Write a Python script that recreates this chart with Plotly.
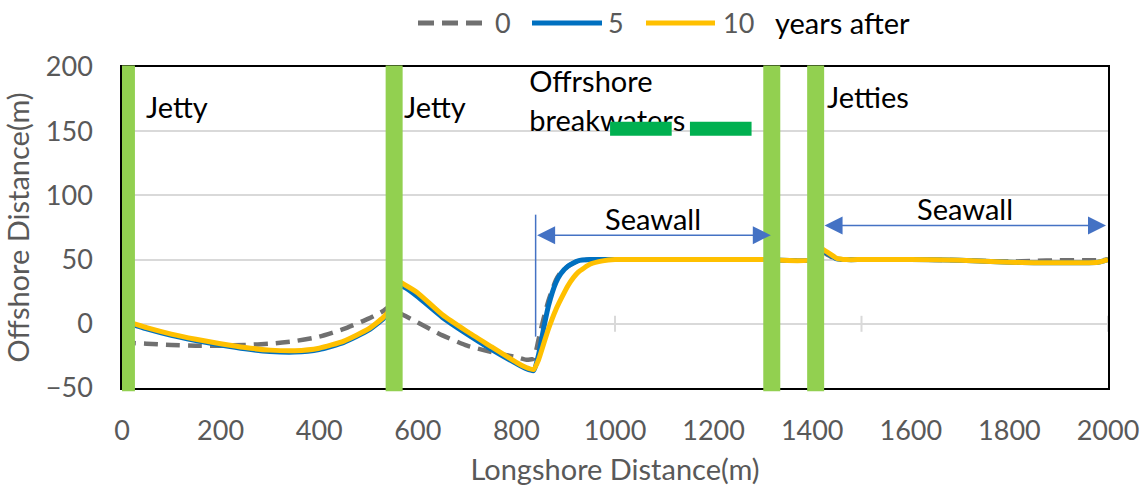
import plotly.graph_objects as go

# Shoreline position (offshore distance, m) along the coast (longshore distance, m)
longshore_m = [0, 25, 50, 100, 150, 200, 250, 300, 350, 400, 450, 500, 530, 545, 560, 575,
               600, 650, 700, 750, 800, 820, 835, 845, 855, 865, 880, 890, 905, 925, 950, 975,
               1000, 1100, 1200, 1300, 1400, 1410, 1430, 1450, 1470, 1500, 1600, 1700, 1800,
               1850, 1900, 1950, 1980, 2000]

year0 = [-14.5, -15, -15.5, -16.5, -17, -17, -16.5, -15.5, -13.5, -10, -4, 4, 10, 14, 9, 6,
         1, -9, -17, -22, -26, -28, -27, -12, 4, 18, 34, 40, 45, 49, 50, 50,
         50, 50, 50, 50, 50, 58, 54, 50, 50, 50, 50, 49.5, 48.5,
         49, 49.5, 49.5, 49.5, 50]

year5 = [1, -1, -4, -9, -13, -16.5, -19.5, -21.5, -22, -20, -14.5, -5, 4, 11, 30, 28,
         21, 5, -8, -20, -31, -35, -36.5, -24, -4, 14, 32, 39, 45, 49, 50, 50,
         50, 50, 50, 50, 50, 59, 55, 50.5, 50, 50, 50, 49.5, 48,
         47.5, 47.5, 47.5, 48, 50]

year10 = [3, 0, -3, -8, -12, -15.5, -18.5, -20.5, -21, -19, -13.5, -4, 5, 12, 33, 30,
          24, 7, -6, -18, -30, -34, -35.5, -28, -16, -4, 11, 19, 30, 40, 46.5, 49,
          50, 50, 50, 50, 50, 60, 56, 51, 50, 50, 50, 49.5, 48,
          47.5, 47.5, 47.5, 48, 50]

series_names = ["0", "5", "10"]
series_colors = ["#707070", "#0070C0", "#FFC000"]

# Coastal structures
jetty_x = [9, 552, 1318, 1407]
breakwater_spans = [(990, 1115), (1152, 1277)]
breakwater_y = 152
seawall_spans = [(839, 1316, 69), (1422, 1996, 76.5)]
seawall_start_marker = (839, -10, 85)
crossing_ticks_x = [1000, 1500, 2000]

x_ticks = list(range(0, 2001, 200))
y_ticks = list(range(-50, 201, 50))

FONT = "Lato"
GREY_TEXT = "#595959"
TICK_SIZE = 27
TEXT_SIZE = 29

fig = go.Figure()

for name, ys, color, dash, width in zip(series_names, [year0, year5, year10], series_colors,
                                        ["14px,8px", "solid", "solid"], [4.5, 5, 5]):
    fig.add_trace(go.Scatter(x=longshore_m, y=ys, name=name, mode="lines", showlegend=False,
                             line=dict(color=color, width=width, dash=dash,
                                       shape="spline", smoothing=0.5)))

# Breakwater label sits beneath the breakwater bars
fig.add_trace(go.Scatter(x=[826, 826], y=[186, 156], mode="text",
                         text=["Offrshore", "breakwaters"], textposition="middle right",
                         textfont=dict(family=FONT, size=TEXT_SIZE, color="black"),
                         showlegend=False, hoverinfo="skip"))

shapes = []
for jx in jetty_x:
    shapes.append(dict(type="rect", xref="x", yref="paper", xsizemode="pixel", xanchor=jx,
                       x0=-8.5, x1=8.5, y0=-0.01, y1=1.005,
                       fillcolor="#92D050", line=dict(width=0), layer="above"))
for bx0, bx1 in breakwater_spans:
    shapes.append(dict(type="rect", xref="x", yref="y", ysizemode="pixel", yanchor=breakwater_y,
                       x0=bx0, x1=bx1, y0=-7, y1=7,
                       fillcolor="#00B050", line=dict(width=0), layer="above"))
for tx in crossing_ticks_x:
    shapes.append(dict(type="line", xref="x", yref="y", ysizemode="pixel", yanchor=0,
                       x0=tx, x1=tx, y0=-8, y1=8,
                       line=dict(color="#D9D9D9", width=2), layer="below"))
sx, sy0, sy1 = seawall_start_marker
shapes.append(dict(type="line", xref="x", yref="y", x0=sx, x1=sx, y0=sy0, y1=sy1,
                   line=dict(color="#4472C4", width=1.5), layer="above"))

annotations = []
for ax0, ax1, ay in seawall_spans:
    annotations.append(dict(x=ax1, y=ay, ax=ax0, ay=ay, xref="x", yref="y", axref="x", ayref="y",
                            text="", showarrow=True, arrowhead=2, arrowside="end+start",
                            arrowsize=2.4, arrowwidth=1.5, arrowcolor="#4472C4"))
    annotations.append(dict(x=(ax0 + ax1) / 2, y=ay + 13, xref="x", yref="y", text="Seawall",
                            showarrow=False, font=dict(family=FONT, size=TEXT_SIZE, color="black")))

for label, lx, ly in [("Jetty", 45, 169), ("Jetty", 568, 169), ("Jetties", 1426, 177)]:
    annotations.append(dict(x=lx, y=ly, xref="x", yref="y", text=label, showarrow=False,
                            xanchor="left", yanchor="middle",
                            font=dict(family=FONT, size=TEXT_SIZE, color="black")))

# Legend row above the plot: line sample + label for each series, then a caption
PLOT_L, PLOT_W, PLOT_B, PLOT_H = 122, 986, 388, 321
def px_x(p):
    return (p - PLOT_L) / PLOT_W
legend_y = (PLOT_B - 23) / PLOT_H
legend_items = [(418, 482, 493), (532, 602, 606), (646, 715, 721)]
for (l0, l1, tx), name, color, dash in zip(legend_items, series_names, series_colors,
                                          ["16px,8px", "solid", "solid"]):
    shapes.append(dict(type="line", xref="paper", yref="paper", x0=px_x(l0), x1=px_x(l1),
                       y0=legend_y, y1=legend_y, line=dict(color=color, width=5, dash=dash)))
    annotations.append(dict(x=px_x(tx), y=legend_y, xref="paper", yref="paper", text=name,
                            showarrow=False, xanchor="left", yanchor="middle",
                            font=dict(family=FONT, size=TICK_SIZE, color=GREY_TEXT)))
annotations.append(dict(x=px_x(773), y=legend_y, xref="paper", yref="paper", text="years after",
                        showarrow=False, xanchor="left", yanchor="middle",
                        font=dict(family=FONT, size=TEXT_SIZE, color="black")))

fig.update_layout(
    width=1146, height=486,
    margin=dict(l=122, r=38, t=67, b=98, autoexpand=False),
    paper_bgcolor="white", plot_bgcolor="white",
    font=dict(family=FONT, size=TICK_SIZE, color=GREY_TEXT),
    shapes=shapes, annotations=annotations, showlegend=False,
    xaxis=dict(range=[0, 2000], tickvals=x_ticks, showgrid=False, zeroline=False,
               showline=True, mirror=True, linecolor="black", linewidth=1.5, ticks="",
               ticklabelstandoff=18,
               tickfont=dict(family=FONT, size=TICK_SIZE, color=GREY_TEXT),
               title=dict(text="Longshore Distance(m)", standoff=20,
                          font=dict(family=FONT, size=TEXT_SIZE, color=GREY_TEXT))),
    yaxis=dict(range=[-50, 200], tickvals=y_ticks, showgrid=True, gridcolor="#D9D9D9", gridwidth=1.5,
               zeroline=False, showline=True, mirror=True, linecolor="black", linewidth=1.5,
               ticks="", ticklabelstandoff=22,
               tickfont=dict(family=FONT, size=TICK_SIZE, color=GREY_TEXT),
               title=dict(text="Offshore Distance(m)", standoff=8,
                          font=dict(family=FONT, size=TEXT_SIZE, color=GREY_TEXT))),
)

fig.write_html("out.html")
